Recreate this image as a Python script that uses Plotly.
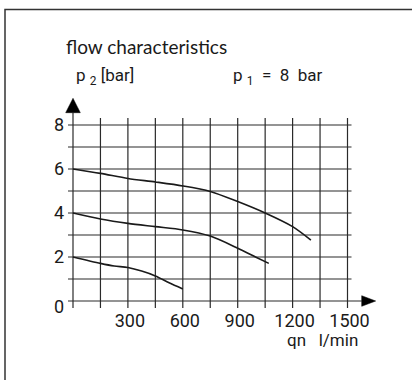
import plotly.graph_objects as go

# ---- data ----
Q_HIGH = [0, 150, 300, 450, 600, 750, 900, 1050, 1200, 1300]
P_HIGH = [6.0, 5.80, 5.57, 5.41, 5.23, 4.98, 4.52, 4.00, 3.38, 2.77]
Q_MID = [0, 150, 300, 450, 600, 750, 900, 1000, 1070]
P_MID = [4.0, 3.73, 3.53, 3.38, 3.23, 2.95, 2.40, 1.99, 1.71]
Q_LOW = [0, 150, 225, 300, 375, 450, 525, 600]
P_LOW = [2.0, 1.71, 1.59, 1.52, 1.36, 1.14, 0.83, 0.55]

X_GRID = list(range(0, 1501, 150))
Y_GRID = list(range(0, 9))
X_TICKS = [300, 600, 900, 1200, 1500]
X_TICK_TEXT = ["300", "600", "900", "1200", "1500"]
Y_TICKS = [0, 2, 4, 6, 8]
Y_TICK_TEXT = ["0", "2", "4", "6", "8"]

W, H = 412, 380
# pixel anchors of the grid
PX_X0, PX_X1 = 73.0, 347.5   # x = 0 .. 1500
PX_Y0, PX_Y1 = 301.0, 125.0  # y = 0 .. 8
sx = (PX_X1 - PX_X0) / 1500.0
sy = (PX_Y0 - PX_Y1) / 8.0
xr = [-PX_X0 / sx, (W - PX_X0) / sx]
yr = [(PX_Y0 - H) / sy, PX_Y0 / sy]

def dx(px):
    return px / sx

def dy(px):
    return px / sy

INK = "#1a1a1a"
NARROW = "Roboto, Liberation Sans, sans-serif"
ROUND = "Lato, Open Sans, sans-serif"

fig = go.Figure()
for q, p in [(Q_HIGH, P_HIGH), (Q_MID, P_MID), (Q_LOW, P_LOW)]:
    fig.add_trace(go.Scatter(x=q, y=p, mode="lines",
                             line=dict(color=INK, width=1.6, shape="spline", smoothing=0.8),
                             hoverinfo="skip", showlegend=False))

shapes = []
gl = dict(color="#2a2a2a", width=1.2)
for xv in X_GRID:
    top = 8 + dy(7) if xv != 0 else 8 + dy(125 - 112.7)
    shapes.append(dict(type="line", xref="x", yref="y", x0=xv, x1=xv,
                       y0=-dy(7), y1=top, line=gl, layer="below"))
for yv in Y_GRID:
    right = 1500 + dx(4) if yv != 0 else 1500 + dx(361.7 - 347.5)
    shapes.append(dict(type="line", xref="x", yref="y", x0=-dx(5), x1=right,
                       y0=yv, y1=yv, line=gl, layer="below"))
# arrow heads
bx = 1500 + dx(361.7 - 347.5)
tx = 1500 + dx(375.7 - 347.5)
hh = dy(5.3)
shapes.append(dict(type="path", xref="x", yref="y",
                   path=f"M {bx},{hh} L {tx},0 L {bx},{-hh} Z",
                   fillcolor="#000", line=dict(color="#000", width=0.5)))
by = 8 + dy(125 - 112.7)
ty = 8 + dy(125 - 98.3)
hw = dx(7.3)
shapes.append(dict(type="path", xref="x", yref="y",
                   path=f"M {-hw},{by} L 0,{ty} L {hw},{by} Z",
                   fillcolor="#000", line=dict(color="#000", width=0.5)))
# outer frame
shapes.append(dict(type="rect", xref="paper", yref="paper",
                   x0=5 / W, x1=1.2, y0=-0.2, y1=1 - 9.5 / H,
                   line=dict(color="#333", width=1.5)))

annotations = [
    dict(text="flow characteristics", x=64 / W, y=1 - 46 / H, xref="paper", yref="paper",
         xanchor="left", yanchor="middle", showarrow=False,
         font=dict(family=ROUND, size=19, color=INK)),
    dict(text="p <sub>2</sub> [bar]", x=74 / W, y=1 - 77 / H, xref="paper", yref="paper",
         xanchor="left", yanchor="middle", showarrow=False,
         font=dict(family=NARROW, size=17, color=INK)),
    dict(text="p <sub>1</sub>  =  8  bar", x=231 / W, y=1 - 77 / H, xref="paper", yref="paper",
         xanchor="left", yanchor="middle", showarrow=False,
         font=dict(family=NARROW, size=17, color=INK)),
    dict(text="qn   l/min", x=360 / W, y=1 - 340 / H, xref="paper", yref="paper",
         xanchor="right", yanchor="middle", showarrow=False,
         font=dict(family=NARROW, size=17, color=INK)),
]

fig.update_layout(
    width=W, height=H, margin=dict(l=0, r=0, t=0, b=0),
    paper_bgcolor="white", plot_bgcolor="white",
    shapes=shapes, annotations=annotations,
    xaxis=dict(range=xr, showgrid=False, zeroline=False, showline=False,
               anchor="free", position=(H - PX_Y0) / H, fixedrange=True,
               tickvals=[v + dx(2) for v in X_TICKS], ticktext=X_TICK_TEXT,
               ticks="", ticklabelstandoff=7,
               tickfont=dict(family=NARROW, size=18, color=INK)),
    yaxis=dict(range=yr, showgrid=False, zeroline=False, showline=False,
               anchor="free", position=PX_X0 / W, fixedrange=True,
               tickvals=[v if v != 0 else -dy(6) for v in Y_TICKS], ticktext=Y_TICK_TEXT,
               ticks="", ticklabelstandoff=9,
               tickfont=dict(family=NARROW, size=18, color=INK)),
)

fig.write_html("out.html", config={"displayModeBar": False},
               post_script="document.body.style.margin='0px';")
